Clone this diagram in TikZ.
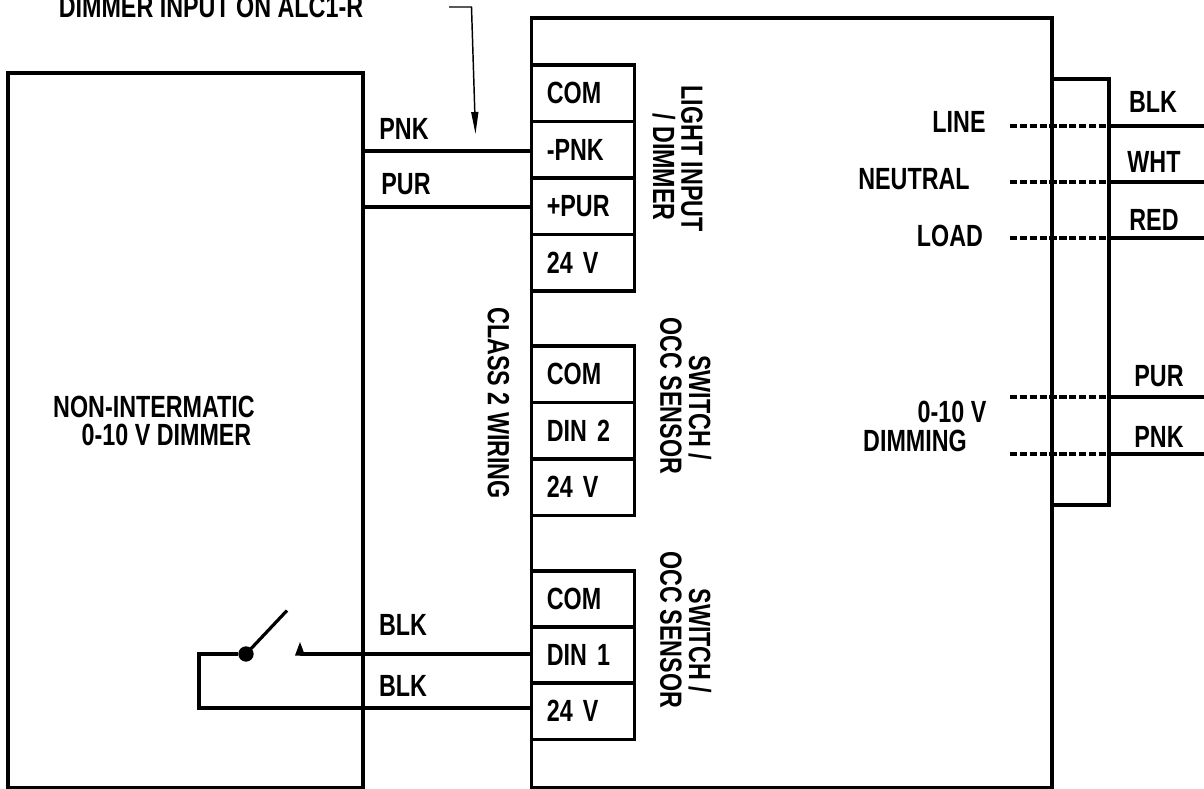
\documentclass[tikz,border=0pt]{standalone}
\usepackage{fontspec}
\setmainfont{Liberation Sans}[FakeStretch=0.76,BoldFeatures={FakeStretch=0.76}]
\usetikzlibrary{calc}
\usetikzlibrary{arrows.meta}
\tikzset{
  wire/.style={line width=2.4pt},
  thinwire/.style={line width=1.1pt},
  dashwire/.style={line width=2.4pt,dash pattern=on 5.4pt off 2pt},
  lbl/.style={inner sep=0pt,font=\fontsize{23}{25}\selectfont\bfseries},
  vlbl/.style={lbl,rotate=-90},
  bigbox/.style={draw,line width=2.4pt,outer sep=0pt,inner sep=0pt,anchor=north west},
  termbox/.style={bigbox,minimum height=42.4pt,text width=54.25pt,inner xsep=11.5pt,align=left,
    font=\fontsize{23}{25}\selectfont\bfseries},
}
\begin{document}
\begin{tikzpicture}[x=0.75pt,y=-0.75pt]
        \useasboundingbox (0,0) rectangle (1204,789);
        \node[bigbox,minimum width=266.25pt,minimum height=536.25pt] (dimmer) at (8,73) {};
        \node[bigbox,minimum width=390.4pt,minimum height=577.5pt] (ctrl) at (531.5,18) {};
        \node[bigbox,minimum width=42.75pt,minimum height=319.5pt] (leads) at (1052,79) {};
        % terminal blocks
        \foreach \name/\txt/\ytop in {lcom/COM/65,lpnk/-PNK/121.5,lpur/+PUR/178,lv/24 V/234.5,
                                      dcom/COM/346,din2/DIN 2/402.5,dv/24 V/459,
                                      scom/COM/571,din1/DIN 1/627,sv/24 V/683} {
          \node[termbox] (\name) at (531.5,\ytop) {\txt};
        }
        \node[lbl] (dimtxta) at (154,407) {NON-INTERMATIC};
        \node[lbl] (dimtxtb) at (166.5,435) {0-10 V DIMMER};
        \node[lbl] (note) at (211,7) {DIMMER INPUT ON ALC1-R};
        \node[vlbl] (lighta) at (692,158.5) {LIGHT INPUT};
        \node[vlbl] (lightb) at (664,167) {/ DIMMER};
        \node[vlbl] (wiring) at (498.5,403) {CLASS 2 WIRING};
        \node[vlbl] (occa) at (700,407.5) {SWITCH /};
        \node[vlbl] (occb) at (671,396) {OCC SENSOR};
        \node[vlbl] (occc) at (700,641) {SWITCH /};
        \node[vlbl] (occd) at (671,630) {OCC SENSOR};
        % leader to the dimmer input
        \coordinate (notea) at (449,7);
        \coordinate (noteb) at (471.5,7);
        \coordinate (notec) at (475.5,134);
        \draw[thinwire,-{Triangle[length=16.5pt,width=5.25pt]}] (notea) -- (noteb) -- (notec);
        % dimmer wires
        \coordinate (pnkw) at (363,151);
        \coordinate (purw) at (363,207);
        \draw[wire] (pnkw) -- (pnkw -| lpnk.west);
        \draw[wire] (purw) -- (purw -| lpur.west);
        \node[lbl] (pnktxt) at (404,129) {PNK};
        \node[lbl] (purtxt) at (406,184) {PUR};
        % switch
        \node[circle,fill,inner sep=0pt,minimum size=11.5pt] (pivot) at (246,654) {};
        \coordinate (armtip) at (287,610.5);
        \coordinate (contact) at (300,654);
        \coordinate (loopa) at (199,654);
        \coordinate (loopb) at (199,708);
        \draw[wire] (pivot.center) -- (armtip);
        \fill (295,655.5) -- (300,642) -- (305,655.5) -- cycle;
        \draw[wire] (contact) -- (contact -| din1.west);
        \draw[wire] (pivot) -- (loopa) -- (loopb) -- (loopb -| sv.west);
        \node[lbl] (blka) at (403,625) {BLK};
        \node[lbl] (blkb) at (403,686) {BLK};
        % lead wires
        \foreach \name/\y/\txt/\xt/\yt in {line/126/BLK/1153/102,neut/182/WHT/1154/162,load/238/RED/1154/220,
                                           pur/397/PUR/1159/376,pnk/454/PNK/1159/437} {
          \coordinate (\name a) at (1010,\y);
          \coordinate (\name b) at (1109,\y);
          \coordinate (\name c) at (1204,\y);
          \draw[dashwire] (\name a) -- (\name b);
          \draw[wire] (\name b) -- (\name c);
          \node[lbl] (\name txt) at (\xt,\yt) {\txt};
        }
        \node[lbl] (linetxt) at (959,122) {LINE};
        \node[lbl] (neuttxt) at (914,179) {NEUTRAL};
        \node[lbl] (loadtxt) at (950,236) {LOAD};
        \node[lbl] (dimtxtc) at (952,412) {0-10 V};
        \node[lbl] (dimtxtd) at (915,441) {DIMMING};
      \end{tikzpicture}
\end{document}
